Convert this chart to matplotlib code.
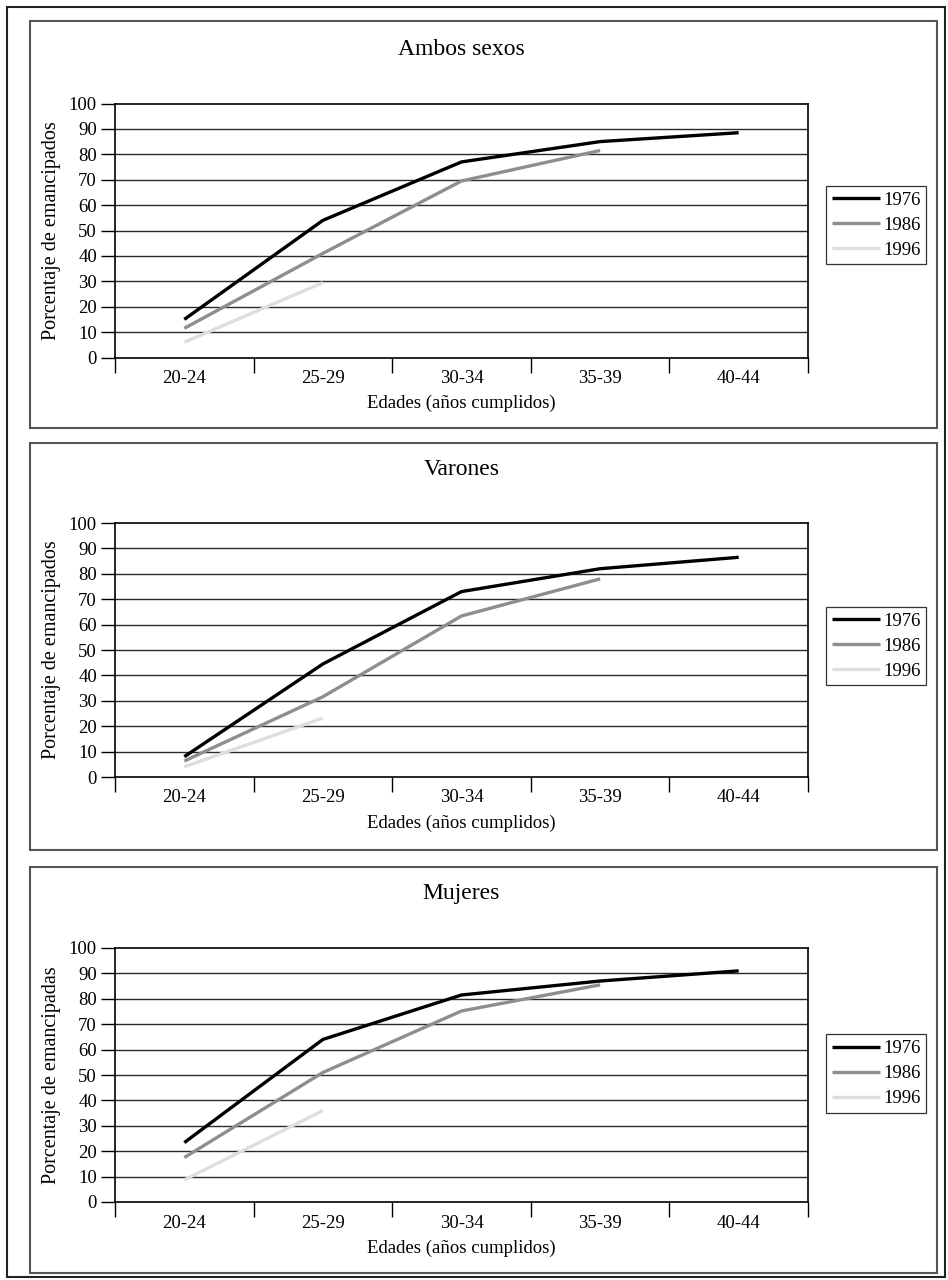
import matplotlib
matplotlib.use('Agg')
import matplotlib.pyplot as plt
from matplotlib.patches import Rectangle

plt.rcParams['font.family'] = ['Liberation Serif', 'DejaVu Serif']

W, H = 948, 1280

categories = ['20-24', '25-29', '30-34', '35-39', '40-44']
years = ['1976', '1986', '1996']

ambos_1976 = [15, 54, 77, 85, 88.5]
ambos_1986 = [11.5, 41, 69.5, 81.5]
ambos_1996 = [6, 29.5]

varones_1976 = [8, 44.5, 73, 82, 86.5]
varones_1986 = [6.3, 31.6, 63.4, 78]
varones_1996 = [4, 23.2]

mujeres_1976 = [23.4, 64, 81.5, 87, 91]
mujeres_1986 = [17.5, 51, 75.2, 85.5]
mujeres_1996 = [8.7, 36]

titles = ['Ambos sexos', 'Varones', 'Mujeres']
ylabels = ['Porcentaje de emancipados', 'Porcentaje de emancipados',
           'Porcentaje de emancipadas']
xlabel = 'Edades (años cumplidos)'
yticks = list(range(0, 101, 10))

series = [
    [ambos_1976, ambos_1986, ambos_1996],
    [varones_1976, varones_1986, varones_1996],
    [mujeres_1976, mujeres_1986, mujeres_1996],
]
colors = ['#000000', '#8e8e8e', '#dedede']

fig = plt.figure(figsize=(W / 100, H / 100), dpi=100)

def fx(px):
    return px / W

def fy(py):
    return 1 - py / H

# outer frame
fig.add_artist(Rectangle((fx(7), fy(1277)), fx(945) - fx(7), fy(7) - fy(1277),
                         transform=fig.transFigure, fill=False,
                         edgecolor='#222222', linewidth=1.5))

panels = [(21, 428), (443, 850), (867, 1273)]
plot_tops = [103.5, 523, 948]
plot_h = 254
plot_l, plot_r = 115, 808
legend_tops = [0.675, 0.67, 0.66]

for i in range(3):
    ptop, pbot = panels[i]
    fig.add_artist(Rectangle((fx(30), fy(pbot)), fx(937) - fx(30), fy(ptop) - fy(pbot),
                             transform=fig.transFigure, fill=False,
                             edgecolor='#555555', linewidth=1.5))
    top = plot_tops[i]
    ax = fig.add_axes([fx(plot_l), fy(top + plot_h), fx(plot_r) - fx(plot_l), plot_h / H])
    ax.set_xlim(0, 5)
    ax.set_ylim(0, 100)
    for v in yticks[1:-1]:
        ax.axhline(v, color='#2a2a2a', linewidth=1.0, zorder=1)
    for j, (vals, yr) in enumerate(zip(series[i], years)):
        xs = [k + 0.5 for k in range(len(vals))]
        ax.plot(xs, vals, color=colors[j], linewidth=2.4, label=yr,
                solid_capstyle='butt', zorder=3)
    ax.set_yticks(yticks)
    ax.set_yticklabels([str(t) for t in yticks])
    ax.set_xticks(range(6))
    ax.set_xticklabels([''] * 6)
    ax.set_xticks([k + 0.5 for k in range(5)], minor=True)
    ax.set_xticklabels(categories, minor=True)
    ax.tick_params(axis='y', direction='out', length=10, width=1.0, pad=3,
                   labelsize=13.5, color='black')
    ax.tick_params(axis='x', which='major', direction='out', length=11, width=1.0)
    ax.tick_params(axis='x', which='minor', length=0, pad=9, labelsize=13.5)
    for s in ax.spines.values():
        s.set_linewidth(1.2)
        s.set_color('black')
    ax.text(0.5, 1 + 54 / plot_h, titles[i], transform=ax.transAxes,
            ha='center', va='center', fontsize=17)
    ax.text(0.5, -46 / plot_h, xlabel, transform=ax.transAxes,
            ha='center', va='center', fontsize=13.5)
    ax.text((52 - plot_l) / (plot_r - plot_l), 0.5, ylabels[i], transform=ax.transAxes,
            ha='center', va='center', rotation=90, fontsize=14.5)
    leg = ax.legend(loc='upper left', bbox_to_anchor=(1.026, legend_tops[i]),
                    borderaxespad=0, frameon=True, fancybox=False, fontsize=13.5,
                    handlelength=2.6, handletextpad=0.15, borderpad=0.3,
                    labelspacing=0.42)
    leg.get_frame().set_edgecolor('black')
    leg.get_frame().set_linewidth(0.9)

fig.savefig('out.png', dpi=100)
